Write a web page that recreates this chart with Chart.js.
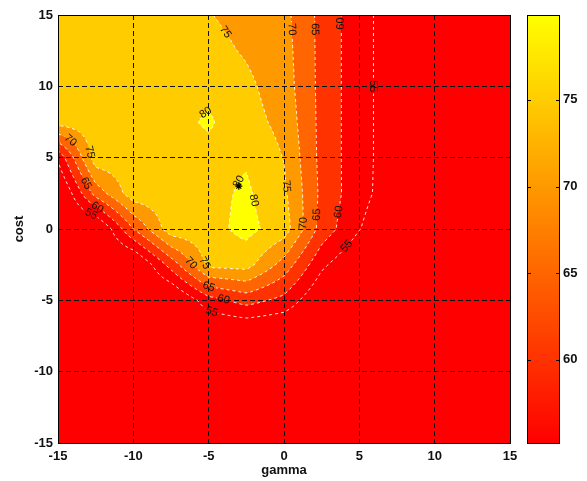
<!DOCTYPE html>
<html>
<head>
<meta charset="utf-8">
<script src="https://cdn.jsdelivr.net/npm/chart.js@4.4.1/dist/chart.umd.min.js"></script>
<style>
  body { margin: 0; background: #fff; }
  #wrap { position: relative; width: 587px; height: 481px; }
  #main { position: absolute; left: 0; top: 0; }
  #bar { position: absolute; left: 515px; top: 0; }
</style>
</head>
<body>
<div id="wrap">
  <canvas id="main" width="587" height="481"></canvas>
  <canvas id="bar" width="72" height="481"></canvas>
</div>
<script>
// grid search result: accuracy (%) over log2(gamma) x log2(cost)
const gammaValues = [-15, -12.5, -10, -7.5, -5, -2.5, 0, 2.5, 5, 7.5, 10, 12.5, 15];
const costValues = [15, 12.5, 10, 7.5, 5, 2.5, 0, -2.5, -5, -7.5, -10, -12.5, -15];

// one row per cost value (top to bottom), one column per gamma value
const accuracy = [
  [78, 78, 78, 77.5, 75.2, 73.5, 71.5, 63.5, 56.8, 52, 51, 51, 51],
  [78, 78, 78.2, 78, 76.5, 74.5, 72, 63.5, 56.8, 52, 51, 51, 51],
  [78, 78, 78.3, 78.5, 78.8, 76, 72.5, 63.5, 56.8, 52, 51, 51, 51],
  [77, 78, 78.3, 78.5, 80.6, 77, 73.5, 63.5, 56.8, 52, 51, 51, 51],
  [56, 78, 78, 78.3, 78.5, 79.5, 74.8, 63.5, 56.8, 52, 51, 51, 51],
  [48, 67, 78, 78.2, 78.5, 80.8, 76, 63.8, 56.6, 52, 51, 51, 51],
  [48, 48, 65, 78, 78.3, 81.5, 77.5, 63, 55.2, 50, 50, 50, 50],
  [48, 48, 48, 62, 76.5, 77, 68, 56, 50, 48, 48, 48, 48],
  [48, 48, 48, 48, 58, 62, 58.5, 50, 48, 48, 48, 48, 48],
  [48, 48, 48, 48, 48, 48, 48, 48, 48, 48, 48, 48, 48],
  [48, 48, 48, 48, 48, 48, 48, 48, 48, 48, 48, 48, 48],
  [48, 48, 48, 48, 48, 48, 48, 48, 48, 48, 48, 48, 48],
  [48, 48, 48, 48, 48, 48, 48, 48, 48, 48, 48, 48, 48]
];

const levels = [55, 60, 65, 70, 75, 80];
const colorMin = 55.2;
const colorMax = 79.9;
const colorTicks = [60, 65, 70, 75];
const axisTicks = [-15, -10, -5, 0, 5, 10, 15];

// best parameters (marked with *)
const bestGamma = [-3];
const bestCost = [3];

// contour labels: [level, gamma, cost] (snapped onto the line)
const contourLabels = [
  [75, -4.6, 13.4], [70, 0.6, 14.0], [65, 1.9, 14.0], [60, 4.0, 14.4], [55, 5.9, 10.1],
  [80, -5.3, 8.3], [80, -3.5, 3.6], [80, -2.0, 2.0], [75, 0.3, 3.0],
  [70, 1.4, 0.5], [65, 2.1, 1.1], [60, 3.9, 1.2], [55, 4.4, -1.5],
  [70, -6.9, -2.9], [75, -5.8, -2.5], [65, -5.1, -4.2], [60, -4.0, -5.3], [55, -4.7, -5.6],
  [75, -13.5, 5.3], [70, -14.6, 5.6], [65, -13.2, 3.2], [60, -12.3, 1.6], [55, -12.9, 1.0]
];

const fontFamily = 'Arial, "Liberation Sans", sans-serif';
const tickFont = { family: fontFamily, size: 13, weight: 'bold' };

function autumn(t) {
  t = Math.max(0, Math.min(1, t));
  return [255, Math.round(255 * t), 0];
}

function bandColor(v) {
  let k = 0;
  while (k < levels.length && v >= levels[k]) k++;
  if (k === 0) return autumn(0);
  return autumn((levels[k - 1] - colorMin) / (colorMax - colorMin));
}

function findCell(arr, v) {
  const lo = Math.min(arr[0], arr[arr.length - 1]);
  const hi = Math.max(arr[0], arr[arr.length - 1]);
  v = Math.max(lo, Math.min(hi, v));
  for (let i = 0; i < arr.length - 1; i++) {
    const a = arr[i], b = arr[i + 1];
    if ((v - a) * (v - b) <= 0) return [i, (v - a) / (b - a)];
  }
  return [arr.length - 2, 1];
}

function field(g, c) {
  const [i, tx] = findCell(gammaValues, g);
  const [j, ty] = findCell(costValues, c);
  const A = accuracy;
  return (1 - tx) * (1 - ty) * A[j][i] + tx * (1 - ty) * A[j][i + 1] +
    (1 - tx) * ty * A[j + 1][i] + tx * ty * A[j + 1][i + 1];
}

// marching squares on a fine resampling of the field, chained into polylines
function contourLines(x0, x1, y0, y1) {
  const n = 150;
  const sx = (x1 - x0) / n, sy = (y1 - y0) / n;
  const vals = [];
  for (let j = 0; j <= n; j++) {
    vals.push([]);
    for (let i = 0; i <= n; i++) vals[j].push(field(x0 + i * sx, y0 + j * sy));
  }
  const out = {};
  levels.forEach(level => {
    const pts = new Map();
    const segs = [];
    const hEdge = (i, j) => {
      const id = 'h' + i + ',' + j;
      if (!pts.has(id)) {
        const t = (level - vals[j][i]) / (vals[j][i + 1] - vals[j][i]);
        pts.set(id, [x0 + (i + t) * sx, y0 + j * sy]);
      }
      return id;
    };
    const vEdge = (i, j) => {
      const id = 'v' + i + ',' + j;
      if (!pts.has(id)) {
        const t = (level - vals[j][i]) / (vals[j + 1][i] - vals[j][i]);
        pts.set(id, [x0 + i * sx, y0 + (j + t) * sy]);
      }
      return id;
    };
    for (let j = 0; j < n; j++) {
      for (let i = 0; i < n; i++) {
        const a = vals[j][i] >= level, b = vals[j][i + 1] >= level;
        const c = vals[j + 1][i + 1] >= level, d = vals[j + 1][i] >= level;
        const e = [];
        if (a !== b) e[0] = hEdge(i, j);
        if (b !== c) e[1] = vEdge(i + 1, j);
        if (d !== c) e[2] = hEdge(i, j + 1);
        if (a !== d) e[3] = vEdge(i, j);
        const crossed = [0, 1, 2, 3].filter(k => e[k] !== undefined);
        if (crossed.length === 2) {
          segs.push([e[crossed[0]], e[crossed[1]]]);
        } else if (crossed.length === 4) {
          const mid = (vals[j][i] + vals[j][i + 1] + vals[j + 1][i + 1] + vals[j + 1][i]) / 4 >= level;
          if (mid === a) { segs.push([e[0], e[1]]); segs.push([e[2], e[3]]); }
          else { segs.push([e[0], e[3]]); segs.push([e[1], e[2]]); }
        }
      }
    }
    const byEdge = new Map();
    segs.forEach((s, k) => s.forEach(id => {
      if (!byEdge.has(id)) byEdge.set(id, []);
      byEdge.get(id).push(k);
    }));
    const used = new Array(segs.length).fill(false);
    const lines = [];
    for (let k = 0; k < segs.length; k++) {
      if (used[k]) continue;
      used[k] = true;
      const line = [segs[k][0], segs[k][1]];
      for (const dir of [1, -1]) {
        while (true) {
          const end = dir === 1 ? line[line.length - 1] : line[0];
          const next = (byEdge.get(end) || []).find(m => !used[m]);
          if (next === undefined) break;
          used[next] = true;
          const other = segs[next][0] === end ? segs[next][1] : segs[next][0];
          if (dir === 1) line.push(other); else line.unshift(other);
        }
      }
      lines.push(line.map(id => pts.get(id)));
    }
    out[level] = lines;
  });
  return out;
}

const contourPlugin = {
  id: 'contour',
  beforeDraw(chart) {
    const { ctx, chartArea } = chart;
    const xs = chart.scales.x, ys = chart.scales.y;
    const left = Math.round(chartArea.left), top = Math.round(chartArea.top);
    const w = Math.round(chartArea.right) - left, h = Math.round(chartArea.bottom) - top;
    const off = document.createElement('canvas');
    off.width = w; off.height = h;
    const octx = off.getContext('2d');
    const img = octx.createImageData(w, h);
    for (let py = 0; py < h; py++) {
      const c = ys.getValueForPixel(top + py + 0.5);
      for (let px = 0; px < w; px++) {
        const g = xs.getValueForPixel(left + px + 0.5);
        const col = bandColor(field(g, c));
        const o = (py * w + px) * 4;
        img.data[o] = col[0]; img.data[o + 1] = col[1]; img.data[o + 2] = col[2]; img.data[o + 3] = 255;
      }
    }
    octx.putImageData(img, 0, 0);
    ctx.drawImage(off, left, top);
  },
  afterDatasetsDraw(chart) {
    const { ctx, chartArea } = chart;
    const xs = chart.scales.x, ys = chart.scales.y;
    const lines = contourLines(xs.min, xs.max, ys.min, ys.max);
    const pix = {};
    levels.forEach(l => {
      pix[l] = lines[l].map(line => line.map(p => [xs.getPixelForValue(p[0]), ys.getPixelForValue(p[1])]));
    });

    // place labels on the nearest contour point
    ctx.font = '11px ' + fontFamily;
    const placed = [];
    contourLabels.forEach(([level, g, c]) => {
      const tx = xs.getPixelForValue(g), ty = ys.getPixelForValue(c);
      let best = null, bd = Infinity;
      (pix[level] || []).forEach(line => line.forEach((p, k) => {
        const d = (p[0] - tx) ** 2 + (p[1] - ty) ** 2;
        if (d < bd) { bd = d; best = { line, k }; }
      }));
      if (!best || bd > 400) return;
      const L = best.line, k = best.k;
      const p0 = L[Math.max(0, k - 3)], p1 = L[Math.min(L.length - 1, k + 3)];
      let a = Math.atan2(p1[1] - p0[1], p1[0] - p0[0]);
      if (a > Math.PI / 2) a -= Math.PI;
      if (a < -Math.PI / 2) a += Math.PI;
      placed.push({ x: L[k][0], y: L[k][1], a, text: String(level), w: ctx.measureText(String(level)).width });
    });

    ctx.save();
    ctx.beginPath();
    ctx.rect(chartArea.left, chartArea.top, chartArea.right - chartArea.left, chartArea.bottom - chartArea.top);
    placed.forEach(L => {
      const cs = Math.cos(L.a), sn = Math.sin(L.a);
      const hw = L.w / 2 + 1, hh = 5;
      const corners = [[-hw, -hh], [hw, -hh], [hw, hh], [-hw, hh]].map(([u, v]) => [L.x + u * cs - v * sn, L.y + u * sn + v * cs]);
      ctx.moveTo(corners[0][0], corners[0][1]);
      for (let q = 1; q < 4; q++) ctx.lineTo(corners[q][0], corners[q][1]);
      ctx.closePath();
    });
    ctx.clip('evenodd');
    ctx.strokeStyle = 'rgba(255,255,255,0.9)';
    ctx.lineWidth = 1;
    ctx.setLineDash([3, 3]);
    levels.forEach(l => pix[l].forEach(line => {
      ctx.beginPath();
      line.forEach((p, k) => (k ? ctx.lineTo(p[0], p[1]) : ctx.moveTo(p[0], p[1])));
      ctx.stroke();
    }));
    ctx.restore();

    ctx.save();
    ctx.fillStyle = '#111';
    ctx.font = '11px ' + fontFamily;
    ctx.textAlign = 'center';
    ctx.textBaseline = 'middle';
    placed.forEach(L => {
      ctx.save();
      ctx.translate(L.x, L.y);
      ctx.rotate(L.a);
      ctx.fillText(L.text, 0, 0);
      ctx.restore();
    });
    ctx.restore();
  },
  afterDraw(chart) {
    const { ctx, chartArea } = chart;
    ctx.save();
    ctx.strokeStyle = '#000';
    ctx.lineWidth = 1;
    ctx.strokeRect(Math.round(chartArea.left) + 0.5, Math.round(chartArea.top) + 0.5,
      Math.round(chartArea.right - chartArea.left), Math.round(chartArea.bottom - chartArea.top));
    ctx.restore();
  }
};

const axisCommon = {
  type: 'linear',
  min: -15,
  max: 15,
  afterBuildTicks: s => { s.ticks = axisTicks.map(v => ({ value: v })); },
  grid: { color: '#111', lineWidth: 1, drawTicks: false },
  border: { display: false, dash: [5, 3] }
};

new Chart(document.getElementById('main'), {
  type: 'scatter',
  data: {
    datasets: [{
      data: bestGamma.map((g, i) => ({ x: g, y: bestCost[i] })),
      pointStyle: 'star',
      radius: 3.5,
      borderColor: '#000',
      borderWidth: 1.2,
      backgroundColor: '#000'
    }]
  },
  options: {
    responsive: false,
    animation: false,
    layout: { padding: { left: 0, top: 15, right: 77, bottom: 0 } },
    plugins: { legend: { display: false }, tooltip: { enabled: false } },
    scales: {
      x: {
        ...axisCommon,
        ticks: { color: '#111', font: tickFont, padding: 6 },
        title: { display: true, text: 'gamma', color: '#111', font: tickFont, padding: { top: 0, bottom: 3 } },
        afterFit: s => { s.height = 38; }
      },
      y: {
        ...axisCommon,
        ticks: { color: '#111', font: tickFont, padding: 5 },
        title: { display: true, text: 'cost', color: '#111', font: tickFont, padding: { top: 12, bottom: 0 } },
        afterFit: s => { s.width = 58; }
      }
    }
  },
  plugins: [contourPlugin]
});

const colorbarPlugin = {
  id: 'colorbar',
  beforeDraw(chart) {
    const { ctx, chartArea } = chart;
    const ys = chart.scales.y;
    const y0 = ys.getPixelForValue(colorMin), y1 = ys.getPixelForValue(colorMax);
    const grad = ctx.createLinearGradient(0, y0, 0, y1);
    const c0 = autumn(0), c1 = autumn(1);
    grad.addColorStop(0, 'rgb(' + c0.join(',') + ')');
    grad.addColorStop(1, 'rgb(' + c1.join(',') + ')');
    const left = Math.round(chartArea.left), right = Math.round(chartArea.right);
    const top = Math.round(chartArea.top), bottom = Math.round(chartArea.bottom);
    ctx.save();
    ctx.fillStyle = grad;
    ctx.fillRect(left, top, right - left, bottom - top);
    ctx.strokeStyle = '#000';
    ctx.lineWidth = 1;
    ctx.strokeRect(left + 0.5, top + 0.5, right - left, bottom - top);
    ctx.beginPath();
    colorTicks.forEach(v => {
      const y = Math.round(ys.getPixelForValue(v)) + 0.5;
      ctx.moveTo(left, y); ctx.lineTo(left + 4, y);
      ctx.moveTo(right - 3, y); ctx.lineTo(right + 1, y);
    });
    ctx.stroke();
    ctx.restore();
  }
};

new Chart(document.getElementById('bar'), {
  type: 'scatter',
  data: { datasets: [] },
  options: {
    responsive: false,
    animation: false,
    layout: { padding: { left: 12, top: 15, right: 0, bottom: 38 } },
    plugins: { legend: { display: false }, tooltip: { enabled: false } },
    scales: {
      x: { display: false },
      y: {
        position: 'right',
        min: colorMin,
        max: colorMax,
        afterBuildTicks: s => { s.ticks = colorTicks.map(v => ({ value: v })); },
        ticks: { color: '#111', font: tickFont, padding: 4 },
        grid: { display: false, drawTicks: false },
        border: { display: false },
        afterFit: s => { s.width = 28; }
      }
    }
  },
  plugins: [colorbarPlugin]
});
</script>
</body>
</html>
